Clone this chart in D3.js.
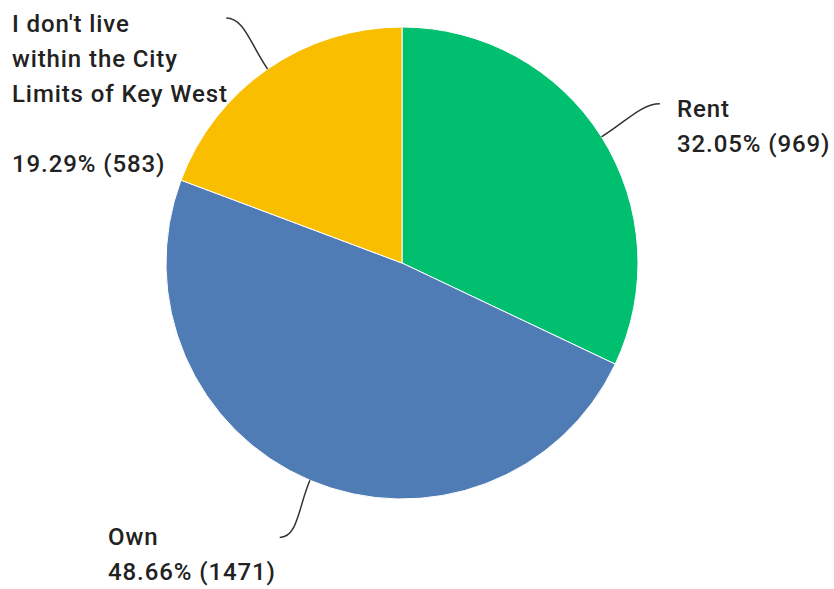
<!DOCTYPE html>
<html><head><meta charset="utf-8">
<script src="https://cdn.jsdelivr.net/npm/d3@7"></script>
<style>body{margin:0;background:#fff}svg{display:block}</style>
</head><body><svg id="c" width="834" height="589"></svg>
<script>
const categories = ["Rent", "Own", "I don't live within the City Limits of Key West"];
const percents = [32.05, 48.66, 19.29];
const counts = [969, 1471, 583];
const colors = ["#00BF6F", "#507CB6", "#F9BE00"];
const labelLines = [["Rent"], ["Own"], ["I don't live", "within the City", "Limits of Key West", ""]];

const svg = d3.select("#c");
const cx = 402, cy = 263, R = 236;
const g = svg.append("g").attr("transform", `translate(${cx},${cy})`);
const data = categories.map((c, i) => ({c, p: percents[i], n: counts[i], col: colors[i], lines: labelLines[i]}));
const pie = d3.pie().value(d => d.p).sort(null);
const arcs = pie(data);
const arc = d3.arc().innerRadius(0).outerRadius(R);
g.selectAll("path.s").data(arcs).join("path").attr("class", "s")
  .attr("d", arc).attr("fill", d => d.data.col).attr("stroke", "#fff").attr("stroke-width", 1);

const pt = (a, r) => [Math.sin(a) * r, -Math.cos(a) * r];
const lblPos = [
  {x: 677, y: 117, tail: 6},
  {x: 108, y: 545, tail: -6},
  {x: 12, y: 32, tail: -6}
];
const lh = 35;
arcs.forEach((a, i) => {
  const m = (a.startAngle + a.endAngle) / 2;
  const s = pt(m, R), c1 = pt(m, R + 30), e = pt(m, 298);
  const tail = lblPos[i].tail;
  const e2 = [e[0] + tail, e[1]];
  const path = d3.path();
  path.moveTo(s[0], s[1]);
  path.bezierCurveTo(c1[0], c1[1], e[0] - tail * 2, e[1], e2[0], e2[1]);
  g.append("path").attr("d", path.toString()).attr("fill", "none")
    .attr("stroke", "#333").attr("stroke-width", 1.5);
  const t = svg.append("text").attr("x", lblPos[i].x).attr("y", lblPos[i].y)
    .attr("font-family", "Roboto, sans-serif").attr("font-weight", 500)
    .attr("font-size", 24).attr("letter-spacing", 0.9).attr("fill", "#222");
  const lines = a.data.lines.concat([`${a.data.p.toFixed(2)}% (${a.data.n})`]);
  lines.forEach((l, k) => {
    t.append("tspan").attr("x", lblPos[i].x).attr("y", lblPos[i].y + k * lh).text(l);
  });
});
</script></body></html>
